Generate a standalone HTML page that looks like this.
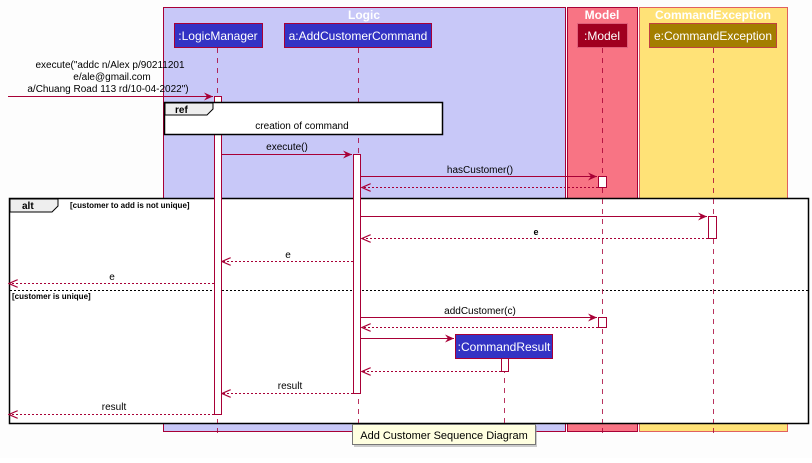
<!DOCTYPE html>
<html><head><style>
body{margin:0;background:#fff;}
svg text{font-family:"Liberation Sans",sans-serif;}
</style></head><body>
<svg width="812" height="458" xmlns="http://www.w3.org/2000/svg">
<defs>
<marker id="a" markerWidth="10" markerHeight="8" refX="9" refY="4" orient="auto" markerUnits="userSpaceOnUse"><path d="M0,0 L9,4 L0,8 L3,4 z" fill="#a80036"/></marker>
<marker id="o" markerWidth="10" markerHeight="8" refX="9" refY="4" orient="auto" markerUnits="userSpaceOnUse"><path d="M0,0 L9,4 L0,8" fill="none" stroke="#a80036" stroke-width="1.2"/></marker>
</defs>
<rect x="0" y="0" width="812" height="458" fill="#fdfdfd"/>
<rect x="163.5" y="7.5" width="402" height="424" fill="#c8c8f8" stroke="#a80036"/>
<rect x="567.5" y="7.5" width="70" height="424" fill="#f87484" stroke="#a80036"/>
<rect x="639.5" y="7.5" width="148" height="424" fill="#ffe277" stroke="#e06060"/>
<text x="364" y="19" font-size="12" font-weight="bold" fill="#fff" text-anchor="middle">Logic</text>
<text x="602" y="19" font-size="12" font-weight="bold" fill="#fff" text-anchor="middle">Model</text>
<text x="713" y="19" font-size="12" font-weight="bold" fill="#fff" text-anchor="middle">CommandException</text>
<g stroke="#a80036" stroke-dasharray="5,5" stroke-width="1" opacity="0.8">
<line x1="217.5" y1="48" x2="217.5" y2="438"/>
<line x1="358.5" y1="48" x2="358.5" y2="438"/>
<line x1="602.5" y1="48" x2="602.5" y2="438"/>
<line x1="713.5" y1="48" x2="713.5" y2="438"/>
</g>
<rect x="174.5" y="23.5" width="88" height="24" fill="#3333c4" stroke="#a80036"/>
<text x="218" y="40" font-size="12" fill="#fff" text-anchor="middle">:LogicManager</text>
<rect x="284.5" y="23.5" width="147" height="24" fill="#3333c4" stroke="#a80036"/>
<text x="358" y="40" font-size="12" fill="#fff" text-anchor="middle">a:AddCustomerCommand</text>
<rect x="577.5" y="23.5" width="50" height="24" fill="#a00020" stroke="#e0607a"/>
<text x="602" y="40" font-size="12" fill="#fff" text-anchor="middle">:Model</text>
<rect x="649.5" y="23.5" width="127" height="24" fill="#a37e00" stroke="#c04040"/>
<text x="713" y="40" font-size="12" fill="#fff" text-anchor="middle">e:CommandException</text>
<rect x="9.5" y="198.5" width="799" height="225" fill="#fff" stroke="#000" stroke-width="1.5"/>
<path d="M10,199 H58 V206 L52,212 H10 Z" fill="#eee" stroke="#000"/>
<text x="22" y="209" font-size="10" font-weight="bold">alt</text>
<text x="70" y="208" font-size="8" font-weight="bold">[customer to add is not unique]</text>
<line x1="10" y1="290.5" x2="808" y2="290.5" stroke="#000" stroke-dasharray="2,2"/>
<text x="12" y="299" font-size="8" font-weight="bold">[customer is unique]</text>
<g stroke="#a80036" stroke-dasharray="5,5" stroke-width="1" opacity="0.8">
<line x1="217.5" y1="199" x2="217.5" y2="423"/>
<line x1="358.5" y1="199" x2="358.5" y2="423"/>
<line x1="602.5" y1="199" x2="602.5" y2="423"/>
<line x1="713.5" y1="199" x2="713.5" y2="423"/>
<line x1="504.5" y1="358" x2="504.5" y2="438"/>
</g>
<rect x="214.5" y="96.5" width="7" height="318" fill="#fff" stroke="#a80036"/>
<rect x="353.5" y="154.5" width="7" height="239" fill="#fff" stroke="#a80036"/>
<rect x="598.5" y="176.5" width="8" height="11" fill="#fff" stroke="#a80036"/>
<rect x="598.5" y="317.5" width="8" height="10" fill="#fff" stroke="#a80036"/>
<rect x="708.5" y="216.5" width="8" height="22" fill="#fff" stroke="#a80036"/>
<rect x="501.5" y="358.5" width="7" height="13" fill="#fff" stroke="#a80036"/>
<rect x="164.5" y="102.5" width="278" height="32" fill="#fff" stroke="#000" stroke-width="1.5"/>
<path d="M165,103 H213 V109 L207,115 H165 Z" fill="#eee" stroke="#000"/>
<text x="175" y="113" font-size="10" font-weight="bold">ref</text>
<text x="302" y="129" font-size="10" text-anchor="middle">creation of command</text>
<g font-size="10" text-anchor="middle">
<text x="110" y="68">execute("addc n/Alex p/90211201</text>
<text x="112" y="80">e/ale@gmail.com</text>
<text x="108" y="92">a/Chuang Road 113 rd/10-04-2022")</text>
<text x="287" y="150">execute()</text>
<text x="480" y="173">hasCustomer()</text>
<text x="536" y="235" font-weight="bold" font-size="9">e</text>
<text x="288" y="258">e</text>
<text x="112" y="280">e</text>
<text x="480" y="314">addCustomer(c)</text>
<text x="290" y="389">result</text>
<text x="114" y="410">result</text>
</g>
<g stroke="#a80036" fill="none">
<line x1="8" y1="96.5" x2="213" y2="96.5" marker-end="url(#a)"/>
<line x1="222" y1="154.5" x2="352" y2="154.5" marker-end="url(#a)"/>
<line x1="361" y1="176.5" x2="597" y2="176.5" marker-end="url(#a)"/>
<line x1="598" y1="187.5" x2="362" y2="187.5" stroke-dasharray="2,2" marker-end="url(#o)"/>
<line x1="361" y1="216.5" x2="707" y2="216.5" marker-end="url(#a)"/>
<line x1="708" y1="238.5" x2="362" y2="238.5" stroke-dasharray="2,2" marker-end="url(#o)"/>
<line x1="353" y1="261.5" x2="222" y2="261.5" stroke-dasharray="2,2" marker-end="url(#o)"/>
<line x1="214" y1="283.5" x2="9" y2="283.5" stroke-dasharray="2,2" marker-end="url(#o)"/>
<line x1="361" y1="317.5" x2="597" y2="317.5" marker-end="url(#a)"/>
<line x1="598" y1="327.5" x2="362" y2="327.5" stroke-dasharray="2,2" marker-end="url(#o)"/>
<line x1="361" y1="338.5" x2="454" y2="338.5" marker-end="url(#a)"/>
<line x1="501" y1="371.5" x2="362" y2="371.5" stroke-dasharray="2,2" marker-end="url(#o)"/>
<line x1="353" y1="393.5" x2="222" y2="393.5" stroke-dasharray="2,2" marker-end="url(#o)"/>
<line x1="214" y1="414.5" x2="9" y2="414.5" stroke-dasharray="2,2" marker-end="url(#o)"/>
</g>
<rect x="455.5" y="334.5" width="97" height="24" fill="#3333c4" stroke="#a80036"/>
<text x="504" y="351" font-size="12" fill="#fff" text-anchor="middle">:CommandResult</text>
<rect x="354" y="426" width="183" height="21" fill="#999" opacity="0.5"/>
<rect x="352.5" y="424.5" width="183" height="20" fill="#ffffe0" stroke="#777"/>
<text x="444" y="439" font-size="11" text-anchor="middle" fill="#000">Add Customer Sequence Diagram</text>
</svg>
</body></html>
